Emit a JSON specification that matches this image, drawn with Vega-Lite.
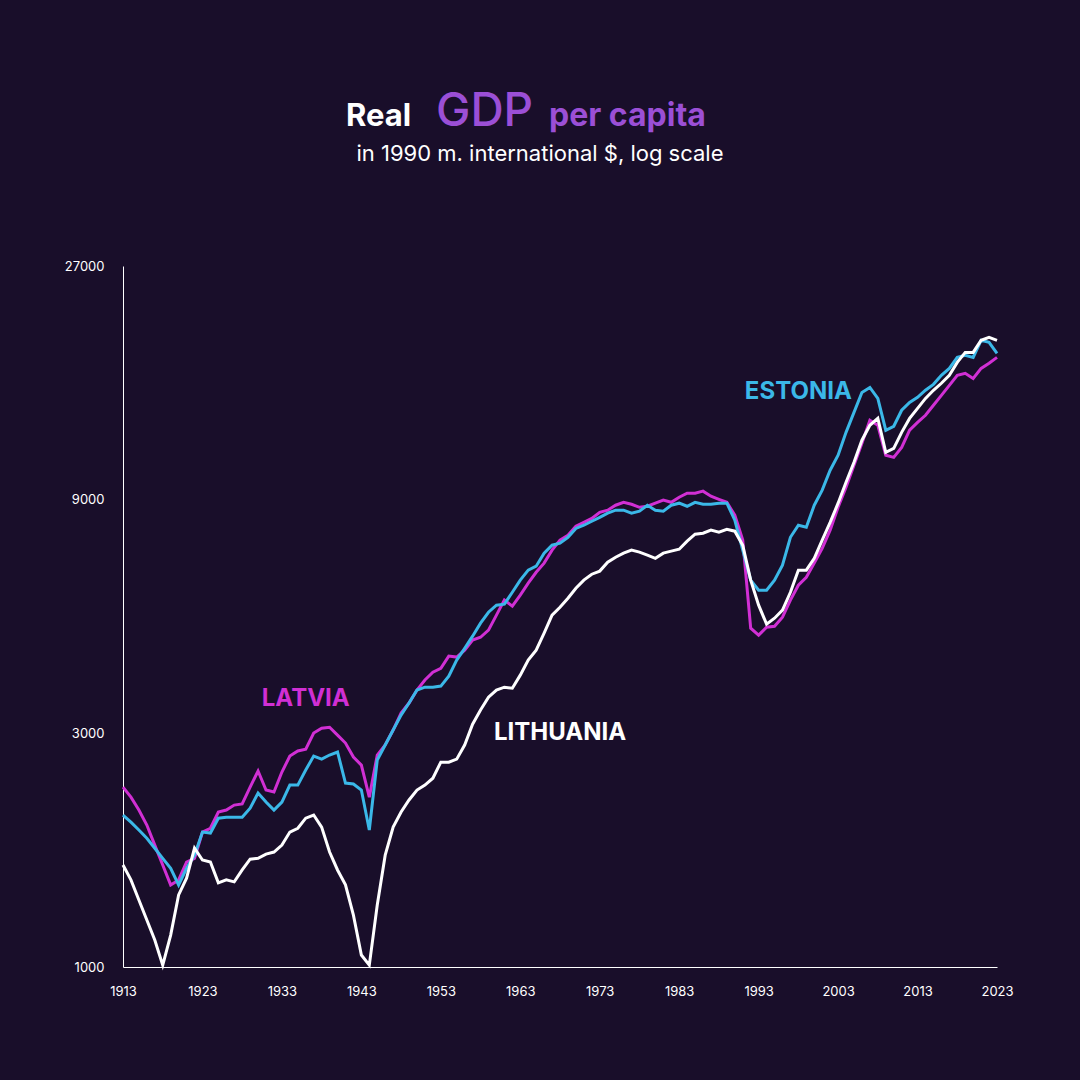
{
  "$schema": "https://vega.github.io/schema/vega-lite/v6.json",
  "autosize": "none",
  "width": 874,
  "height": 701,
  "padding": {"left": 123, "top": 266, "right": 83, "bottom": 113},
  "background": "#190e2a",
  "config": {"view": {"stroke": null}, "font": "Inter"},
  "layer": [
    {
      "data": {"values": [
        {"c":"Latvia","year":1913,"gdp":2330},{"c":"Latvia","year":1914,"gdp":2222},{"c":"Latvia","year":1915,"gdp":2092},{"c":"Latvia","year":1916,"gdp":1949},{"c":"Latvia","year":1917,"gdp":1774},{"c":"Latvia","year":1918,"gdp":1615},{"c":"Latvia","year":1919,"gdp":1471},{"c":"Latvia","year":1920,"gdp":1506},{"c":"Latvia","year":1921,"gdp":1638},{"c":"Latvia","year":1922,"gdp":1667},
        {"c":"Latvia","year":1923,"gdp":1886},{"c":"Latvia","year":1924,"gdp":1920},{"c":"Latvia","year":1925,"gdp":2072},{"c":"Latvia","year":1926,"gdp":2092},{"c":"Latvia","year":1927,"gdp":2141},{"c":"Latvia","year":1928,"gdp":2152},{"c":"Latvia","year":1929,"gdp":2330},{"c":"Latvia","year":1930,"gdp":2513},{"c":"Latvia","year":1931,"gdp":2298},{"c":"Latvia","year":1932,"gdp":2276},
        {"c":"Latvia","year":1933,"gdp":2501},{"c":"Latvia","year":1934,"gdp":2696},{"c":"Latvia","year":1935,"gdp":2761},{"c":"Latvia","year":1936,"gdp":2785},{"c":"Latvia","year":1937,"gdp":3004},{"c":"Latvia","year":1938,"gdp":3072},{"c":"Latvia","year":1939,"gdp":3087},{"c":"Latvia","year":1940,"gdp":2975},{"c":"Latvia","year":1941,"gdp":2866},{"c":"Latvia","year":1942,"gdp":2683},
        {"c":"Latvia","year":1943,"gdp":2584},{"c":"Latvia","year":1944,"gdp":2222},{"c":"Latvia","year":1945,"gdp":2709},{"c":"Latvia","year":1946,"gdp":2840},{"c":"Latvia","year":1947,"gdp":3047},{"c":"Latvia","year":1948,"gdp":3300},{"c":"Latvia","year":1949,"gdp":3459},{"c":"Latvia","year":1950,"gdp":3677},{"c":"Latvia","year":1951,"gdp":3854},{"c":"Latvia","year":1952,"gdp":3999},
        {"c":"Latvia","year":1953,"gdp":4074},{"c":"Latvia","year":1954,"gdp":4313},{"c":"Latvia","year":1955,"gdp":4293},{"c":"Latvia","year":1956,"gdp":4437},{"c":"Latvia","year":1957,"gdp":4651},{"c":"Latvia","year":1958,"gdp":4713},{"c":"Latvia","year":1959,"gdp":4874},{"c":"Latvia","year":1960,"gdp":5229},{"c":"Latvia","year":1961,"gdp":5612},{"c":"Latvia","year":1962,"gdp":5454},
        {"c":"Latvia","year":1963,"gdp":5744},{"c":"Latvia","year":1964,"gdp":6078},{"c":"Latvia","year":1965,"gdp":6397},{"c":"Latvia","year":1966,"gdp":6678},{"c":"Latvia","year":1967,"gdp":7099},{"c":"Latvia","year":1968,"gdp":7440},{"c":"Latvia","year":1969,"gdp":7615},{"c":"Latvia","year":1970,"gdp":7944},{"c":"Latvia","year":1971,"gdp":8092},{"c":"Latvia","year":1972,"gdp":8241},
        {"c":"Latvia","year":1973,"gdp":8480},{"c":"Latvia","year":1974,"gdp":8566},{"c":"Latvia","year":1975,"gdp":8768},{"c":"Latvia","year":1976,"gdp":8889},{"c":"Latvia","year":1977,"gdp":8809},{"c":"Latvia","year":1978,"gdp":8682},{"c":"Latvia","year":1979,"gdp":8726},{"c":"Latvia","year":1980,"gdp":8852},{"c":"Latvia","year":1981,"gdp":8979},{"c":"Latvia","year":1982,"gdp":8889},
        {"c":"Latvia","year":1983,"gdp":9101},{"c":"Latvia","year":1984,"gdp":9279},{"c":"Latvia","year":1985,"gdp":9279},{"c":"Latvia","year":1986,"gdp":9367},{"c":"Latvia","year":1987,"gdp":9147},{"c":"Latvia","year":1988,"gdp":9016},{"c":"Latvia","year":1989,"gdp":8889},{"c":"Latvia","year":1990,"gdp":8365},{"c":"Latvia","year":1991,"gdp":7440},{"c":"Latvia","year":1992,"gdp":4917},
        {"c":"Latvia","year":1993,"gdp":4760},{"c":"Latvia","year":1994,"gdp":4940},{"c":"Latvia","year":1995,"gdp":4964},{"c":"Latvia","year":1996,"gdp":5178},{"c":"Latvia","year":1997,"gdp":5612},{"c":"Latvia","year":1998,"gdp":6020},{"c":"Latvia","year":1999,"gdp":6249},{"c":"Latvia","year":2000,"gdp":6678},{"c":"Latvia","year":2001,"gdp":7161},{"c":"Latvia","year":2002,"gdp":7798},
        {"c":"Latvia","year":2003,"gdp":8683},{"c":"Latvia","year":2004,"gdp":9538},{"c":"Latvia","year":2005,"gdp":10580},{"c":"Latvia","year":2006,"gdp":11735},{"c":"Latvia","year":2007,"gdp":13075},{"c":"Latvia","year":2008,"gdp":12768},{"c":"Latvia","year":2009,"gdp":11089},{"c":"Latvia","year":2010,"gdp":10978},{"c":"Latvia","year":2011,"gdp":11509},{"c":"Latvia","year":2012,"gdp":12475},
        {"c":"Latvia","year":2013,"gdp":12944},{"c":"Latvia","year":2014,"gdp":13382},{"c":"Latvia","year":2015,"gdp":14026},{"c":"Latvia","year":2016,"gdp":14700},{"c":"Latvia","year":2017,"gdp":15408},{"c":"Latvia","year":2018,"gdp":16149},{"c":"Latvia","year":2019,"gdp":16305},{"c":"Latvia","year":2020,"gdp":15915},{"c":"Latvia","year":2021,"gdp":16681},{"c":"Latvia","year":2022,"gdp":17090},{"c":"Latvia","year":2023,"gdp":17568},

        {"c":"Estonia","year":1913,"gdp":2043},{"c":"Estonia","year":1914,"gdp":1976},{"c":"Estonia","year":1915,"gdp":1904},{"c":"Estonia","year":1916,"gdp":1832},{"c":"Estonia","year":1917,"gdp":1748},{"c":"Estonia","year":1918,"gdp":1667},{"c":"Estonia","year":1919,"gdp":1591},{"c":"Estonia","year":1920,"gdp":1471},{"c":"Estonia","year":1921,"gdp":1591},{"c":"Estonia","year":1922,"gdp":1692},
        {"c":"Estonia","year":1923,"gdp":1886},{"c":"Estonia","year":1924,"gdp":1877},{"c":"Estonia","year":1925,"gdp":2013},{"c":"Estonia","year":1926,"gdp":2022},{"c":"Estonia","year":1927,"gdp":2022},{"c":"Estonia","year":1928,"gdp":2022},{"c":"Estonia","year":1929,"gdp":2110},{"c":"Estonia","year":1930,"gdp":2266},{"c":"Estonia","year":1931,"gdp":2172},{"c":"Estonia","year":1932,"gdp":2092},
        {"c":"Estonia","year":1933,"gdp":2172},{"c":"Estonia","year":1934,"gdp":2352},{"c":"Estonia","year":1935,"gdp":2352},{"c":"Estonia","year":1936,"gdp":2525},{"c":"Estonia","year":1937,"gdp":2696},{"c":"Estonia","year":1938,"gdp":2657},{"c":"Estonia","year":1939,"gdp":2709},{"c":"Estonia","year":1940,"gdp":2748},{"c":"Estonia","year":1941,"gdp":2375},{"c":"Estonia","year":1942,"gdp":2364},
        {"c":"Estonia","year":1943,"gdp":2298},{"c":"Estonia","year":1944,"gdp":1904},{"c":"Estonia","year":1945,"gdp":2646},{"c":"Estonia","year":1946,"gdp":2840},{"c":"Estonia","year":1947,"gdp":3047},{"c":"Estonia","year":1948,"gdp":3268},{"c":"Estonia","year":1949,"gdp":3459},{"c":"Estonia","year":1950,"gdp":3677},{"c":"Estonia","year":1951,"gdp":3727},{"c":"Estonia","year":1952,"gdp":3727},
        {"c":"Estonia","year":1953,"gdp":3746},{"c":"Estonia","year":1954,"gdp":3926},{"c":"Estonia","year":1955,"gdp":4233},{"c":"Estonia","year":1956,"gdp":4474},{"c":"Estonia","year":1957,"gdp":4737},{"c":"Estonia","year":1958,"gdp":5037},{"c":"Estonia","year":1959,"gdp":5301},{"c":"Estonia","year":1960,"gdp":5480},{"c":"Estonia","year":1961,"gdp":5506},{"c":"Estonia","year":1962,"gdp":5823},
        {"c":"Estonia","year":1963,"gdp":6165},{"c":"Estonia","year":1964,"gdp":6462},{"c":"Estonia","year":1965,"gdp":6583},{"c":"Estonia","year":1966,"gdp":7000},{"c":"Estonia","year":1967,"gdp":7265},{"c":"Estonia","year":1968,"gdp":7335},{"c":"Estonia","year":1969,"gdp":7541},{"c":"Estonia","year":1970,"gdp":7862},{"c":"Estonia","year":1971,"gdp":7981},{"c":"Estonia","year":1972,"gdp":8132},
        {"c":"Estonia","year":1973,"gdp":8283},{"c":"Estonia","year":1974,"gdp":8446},{"c":"Estonia","year":1975,"gdp":8566},{"c":"Estonia","year":1976,"gdp":8566},{"c":"Estonia","year":1977,"gdp":8446},{"c":"Estonia","year":1978,"gdp":8526},{"c":"Estonia","year":1979,"gdp":8768},{"c":"Estonia","year":1980,"gdp":8566},{"c":"Estonia","year":1981,"gdp":8526},{"c":"Estonia","year":1982,"gdp":8768},
        {"c":"Estonia","year":1983,"gdp":8852},{"c":"Estonia","year":1984,"gdp":8726},{"c":"Estonia","year":1985,"gdp":8889},{"c":"Estonia","year":1986,"gdp":8809},{"c":"Estonia","year":1987,"gdp":8809},{"c":"Estonia","year":1988,"gdp":8852},{"c":"Estonia","year":1989,"gdp":8852},{"c":"Estonia","year":1990,"gdp":8173},{"c":"Estonia","year":1991,"gdp":7099},{"c":"Estonia","year":1992,"gdp":6165},
        {"c":"Estonia","year":1993,"gdp":5882},{"c":"Estonia","year":1994,"gdp":5882},{"c":"Estonia","year":1995,"gdp":6165},{"c":"Estonia","year":1996,"gdp":6614},{"c":"Estonia","year":1997,"gdp":7541},{"c":"Estonia","year":1998,"gdp":7981},{"c":"Estonia","year":1999,"gdp":7903},{"c":"Estonia","year":2000,"gdp":8768},{"c":"Estonia","year":2001,"gdp":9411},{"c":"Estonia","year":2002,"gdp":10338},
        {"c":"Estonia","year":2003,"gdp":11089},{"c":"Estonia","year":2004,"gdp":12350},{"c":"Estonia","year":2005,"gdp":13567},{"c":"Estonia","year":2006,"gdp":14903},{"c":"Estonia","year":2007,"gdp":15257},{"c":"Estonia","year":2008,"gdp":14482},{"c":"Estonia","year":2009,"gdp":12475},{"c":"Estonia","year":2010,"gdp":12709},{"c":"Estonia","year":2011,"gdp":13704},{"c":"Estonia","year":2012,"gdp":14219},
        {"c":"Estonia","year":2013,"gdp":14557},{"c":"Estonia","year":2014,"gdp":15054},{"c":"Estonia","year":2015,"gdp":15478},{"c":"Estonia","year":2016,"gdp":16149},{"c":"Estonia","year":2017,"gdp":16681},{"c":"Estonia","year":2018,"gdp":17568},{"c":"Estonia","year":2019,"gdp":17740},{"c":"Estonia","year":2020,"gdp":17568},{"c":"Estonia","year":2021,"gdp":19040},{"c":"Estonia","year":2022,"gdp":18850},{"c":"Estonia","year":2023,"gdp":17913},

        {"c":"Lithuania","year":1913,"gdp":1615},{"c":"Lithuania","year":1914,"gdp":1506},{"c":"Lithuania","year":1915,"gdp":1370},{"c":"Lithuania","year":1916,"gdp":1247},{"c":"Lithuania","year":1917,"gdp":1135},{"c":"Lithuania","year":1918,"gdp":1009},{"c":"Lithuania","year":1919,"gdp":1162},{"c":"Lithuania","year":1920,"gdp":1403},{"c":"Lithuania","year":1921,"gdp":1518},{"c":"Lithuania","year":1922,"gdp":1749},
        {"c":"Lithuania","year":1923,"gdp":1654},{"c":"Lithuania","year":1924,"gdp":1638},{"c":"Lithuania","year":1925,"gdp":1485},{"c":"Lithuania","year":1926,"gdp":1506},{"c":"Lithuania","year":1927,"gdp":1492},{"c":"Lithuania","year":1928,"gdp":1578},{"c":"Lithuania","year":1929,"gdp":1660},{"c":"Lithuania","year":1930,"gdp":1667},{"c":"Lithuania","year":1931,"gdp":1700},{"c":"Lithuania","year":1932,"gdp":1717},
        {"c":"Lithuania","year":1933,"gdp":1774},{"c":"Lithuania","year":1934,"gdp":1886},{"c":"Lithuania","year":1935,"gdp":1920},{"c":"Lithuania","year":1936,"gdp":2013},{"c":"Lithuania","year":1937,"gdp":2043},{"c":"Lithuania","year":1938,"gdp":1930},{"c":"Lithuania","year":1939,"gdp":1717},{"c":"Lithuania","year":1940,"gdp":1578},{"c":"Lithuania","year":1941,"gdp":1471},{"c":"Lithuania","year":1942,"gdp":1276},
        {"c":"Lithuania","year":1943,"gdp":1058},{"c":"Lithuania","year":1944,"gdp":1009},{"c":"Lithuania","year":1945,"gdp":1338},{"c":"Lithuania","year":1946,"gdp":1692},{"c":"Lithuania","year":1947,"gdp":1930},{"c":"Lithuania","year":1948,"gdp":2072},{"c":"Lithuania","year":1949,"gdp":2193},{"c":"Lithuania","year":1950,"gdp":2298},{"c":"Lithuania","year":1951,"gdp":2352},{"c":"Lithuania","year":1952,"gdp":2429},
        {"c":"Lithuania","year":1953,"gdp":2620},{"c":"Lithuania","year":1954,"gdp":2620},{"c":"Lithuania","year":1955,"gdp":2657},{"c":"Lithuania","year":1956,"gdp":2840},{"c":"Lithuania","year":1957,"gdp":3132},{"c":"Lithuania","year":1958,"gdp":3347},{"c":"Lithuania","year":1959,"gdp":3556},{"c":"Lithuania","year":1960,"gdp":3677},{"c":"Lithuania","year":1961,"gdp":3727},{"c":"Lithuania","year":1962,"gdp":3709},
        {"c":"Lithuania","year":1963,"gdp":3944},{"c":"Lithuania","year":1964,"gdp":4233},{"c":"Lithuania","year":1965,"gdp":4437},{"c":"Lithuania","year":1966,"gdp":4806},{"c":"Lithuania","year":1967,"gdp":5229},{"c":"Lithuania","year":1968,"gdp":5427},{"c":"Lithuania","year":1969,"gdp":5661},{"c":"Lithuania","year":1970,"gdp":5933},{"c":"Lithuania","year":1971,"gdp":6165},{"c":"Lithuania","year":1972,"gdp":6339},
        {"c":"Lithuania","year":1973,"gdp":6432},{"c":"Lithuania","year":1974,"gdp":6705},{"c":"Lithuania","year":1975,"gdp":6865},{"c":"Lithuania","year":1976,"gdp":7000},{"c":"Lithuania","year":1977,"gdp":7099},{"c":"Lithuania","year":1978,"gdp":7032},{"c":"Lithuania","year":1979,"gdp":6932},{"c":"Lithuania","year":1980,"gdp":6832},{"c":"Lithuania","year":1981,"gdp":7000},{"c":"Lithuania","year":1982,"gdp":7065},
        {"c":"Lithuania","year":1983,"gdp":7130},{"c":"Lithuania","year":1984,"gdp":7405},{"c":"Lithuania","year":1985,"gdp":7650},{"c":"Lithuania","year":1986,"gdp":7688},{"c":"Lithuania","year":1987,"gdp":7798},{"c":"Lithuania","year":1988,"gdp":7725},{"c":"Lithuania","year":1989,"gdp":7830},{"c":"Lithuania","year":1990,"gdp":7761},{"c":"Lithuania","year":1991,"gdp":7265},{"c":"Lithuania","year":1992,"gdp":6165},
        {"c":"Lithuania","year":1993,"gdp":5480},{"c":"Lithuania","year":1994,"gdp":5012},{"c":"Lithuania","year":1995,"gdp":5154},{"c":"Lithuania","year":1996,"gdp":5355},{"c":"Lithuania","year":1997,"gdp":5823},{"c":"Lithuania","year":1998,"gdp":6462},{"c":"Lithuania","year":1999,"gdp":6462},{"c":"Lithuania","year":2000,"gdp":6832},{"c":"Lithuania","year":2001,"gdp":7440},{"c":"Lithuania","year":2002,"gdp":8092},
        {"c":"Lithuania","year":2003,"gdp":8852},{"c":"Lithuania","year":2004,"gdp":9764},{"c":"Lithuania","year":2005,"gdp":10734},{"c":"Lithuania","year":2006,"gdp":11902},{"c":"Lithuania","year":2007,"gdp":12768},{"c":"Lithuania","year":2008,"gdp":13189},{"c":"Lithuania","year":2009,"gdp":11249},{"c":"Lithuania","year":2010,"gdp":11455},{"c":"Lithuania","year":2011,"gdp":12350},{"c":"Lithuania","year":2012,"gdp":13189},
        {"c":"Lithuania","year":2013,"gdp":13823},{"c":"Lithuania","year":2014,"gdp":14488},{"c":"Lithuania","year":2015,"gdp":15054},{"c":"Lithuania","year":2016,"gdp":15556},{"c":"Lithuania","year":2017,"gdp":16149},{"c":"Lithuania","year":2018,"gdp":17160},{"c":"Lithuania","year":2019,"gdp":17986},{"c":"Lithuania","year":2020,"gdp":17986},{"c":"Lithuania","year":2021,"gdp":19040},{"c":"Lithuania","year":2022,"gdp":19298},{"c":"Lithuania","year":2023,"gdp":19040}
      ]},
      "mark": {"type": "line", "strokeWidth": 3},
      "encoding": {
        "x": {"field": "year", "type": "quantitative", "scale": {"domain": [1913, 2023], "nice": false, "zero": false},
          "axis": {"values": [1913,1923,1933,1943,1953,1963,1973,1983,1993,2003,2013,2023], "format": "d", "title": null, "grid": false, "ticks": false, "labelFlush": false, "domainColor": "#ffffff", "labelColor": "#ffffff", "labelFontSize": 13, "labelPadding": 18}},
        "y": {"field": "gdp", "type": "quantitative", "scale": {"type": "log", "domain": [1000, 27000], "nice": false},
          "axis": {"values": [1000, 3000, 9000, 27000], "format": "d", "title": null, "grid": false, "ticks": false, "labelFlush": false, "domainColor": "#ffffff", "labelColor": "#ffffff", "labelFontSize": 13, "labelPadding": 19}},
        "color": {"field": "c", "type": "nominal", "legend": null,
          "scale": {"domain": ["Latvia", "Estonia", "Lithuania"], "range": ["#d12fd4", "#3bb8e8", "#ffffff"]}},
        "order": {"field": "c", "sort": "ascending"}
      }
    },
    {
      "data": {"values": [
        {"label": "LATVIA", "year": 1936, "gdp": 3525, "c": "#d12fd4"},
        {"label": "LITHUANIA", "year": 1968, "gdp": 3010, "c": "#ffffff"},
        {"label": "ESTONIA", "year": 1998, "gdp": 14900, "c": "#3bb8e8"}
      ]},
      "mark": {"type": "text", "fontWeight": "bold", "fontSize": 24, "baseline": "middle", "align": "center"},
      "encoding": {
        "x": {"field": "year", "type": "quantitative"},
        "y": {"field": "gdp", "type": "quantitative"},
        "text": {"field": "label"},
        "color": {"field": "c", "type": "nominal", "scale": null}
      }
    },
    {
      "data": {"values": [
        {"t": "Real", "px": 223, "py": -140, "s": 31, "c": "#ffffff"},
        {"t": "per capita", "px": 426, "py": -140, "s": 32, "c": "#9b4fd6"}
      ]},
      "mark": {"type": "text", "align": "left", "baseline": "alphabetic", "fontWeight": "bold", "clip": false},
      "encoding": {
        "x": {"field": "px", "type": "quantitative", "scale": null},
        "y": {"field": "py", "type": "quantitative", "scale": null},
        "text": {"field": "t"},
        "color": {"field": "c", "type": "nominal", "scale": null},
        "size": {"field": "s", "type": "quantitative", "scale": null}
      }
    },
    {
      "data": {"values": [
        {"t": "GDP", "px": 313, "py": -140, "s": 46, "c": "#9b4fd6"}
      ]},
      "mark": {"type": "text", "align": "left", "baseline": "alphabetic", "fontWeight": 500, "clip": false},
      "encoding": {
        "x": {"field": "px", "type": "quantitative", "scale": null},
        "y": {"field": "py", "type": "quantitative", "scale": null},
        "text": {"field": "t"},
        "color": {"field": "c", "type": "nominal", "scale": null},
        "size": {"field": "s", "type": "quantitative", "scale": null}
      }
    },
    {
      "data": {"values": [
        {"t": "in 1990 m. international $, log scale", "px": 417, "py": -105, "s": 22, "c": "#ffffff"}
      ]},
      "mark": {"type": "text", "align": "center", "baseline": "alphabetic", "clip": false},
      "encoding": {
        "x": {"field": "px", "type": "quantitative", "scale": null},
        "y": {"field": "py", "type": "quantitative", "scale": null},
        "text": {"field": "t"},
        "color": {"field": "c", "type": "nominal", "scale": null},
        "size": {"field": "s", "type": "quantitative", "scale": null}
      }
    }
  ]
}
